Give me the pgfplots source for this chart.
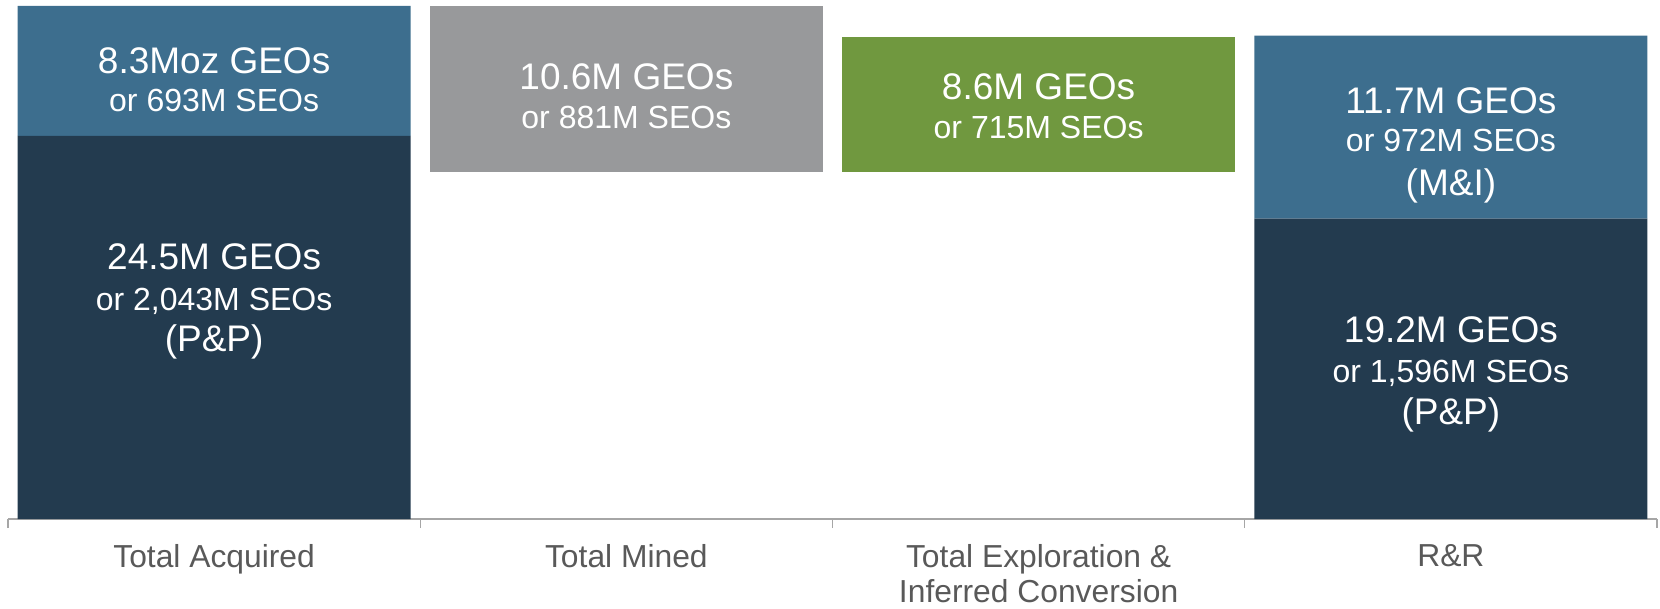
\documentclass[border=0pt]{standalone}
\usepackage{pgfplots}
\usepackage{pgfplotstable}
\pgfplotsset{compat=1.18}
\usepackage{fontspec}
\setmainfont{Liberation Sans}
\definecolor{navy}{HTML}{233B4F}
\definecolor{steel}{HTML}{3D6E8E}
\definecolor{grayb}{HTML}{98999B}
\definecolor{greenb}{HTML}{70983F}
\definecolor{axgray}{HTML}{A6A6A6}
\definecolor{labgray}{HTML}{595959}
\pgfplotstableread{
cat base pp mi mined expl
0 0 24.5 8.3 0 0
1 22.2 0 0 10.6 0
2 22.2 0 0 0 8.6
3 0 19.2 11.7 0 0
}\wfdata
\newcommand{\bigf}{\fontsize{18.5}{20}\selectfont}
\newcommand{\smlf}{\fontsize{16}{19}\selectfont}
\tikzset{vlb/.style={anchor=base, text=white, inner sep=0pt, font=\bigf},
         vls/.style={anchor=base, text=white, inner sep=0pt, font=\smlf}}
\begin{document}
\begin{tikzpicture}
\begin{axis}[name=ax, scale only axis, width=824.5pt, height=259.5pt,
  xmin=-0.5, xmax=3.5, ymin=0, ymax=33.18,
  ybar stacked, bar width=196.5pt,
  hide y axis,
  axis x line*=bottom,
  x axis line style={draw=axgray, line width=0.6pt},
  xtick={-0.5,0.5,1.5,2.5},
  xticklabels={Total Acquired, Total Mined, {Total Exploration \&\\Inferred Conversion}, R\&R},
  extra x ticks={3.5}, extra x tick labels={},
  tick align=outside, major tick length=4.5pt,
  xtick style={draw=axgray, line width=0.6pt},
  xticklabel style={xshift=103.06pt, align=center, inner sep=0pt, text=labgray,
    font=\fontsize{15.9}{17.5}\selectfont, yshift=-8pt},
  clip=false,
]
\addplot[fill=none, draw=none] table[x=cat, y=base] {\wfdata};
\addplot[fill=navy, draw=none] table[x=cat, y=pp] {\wfdata};
\addplot[fill=steel, draw=none] table[x=cat, y=mi] {\wfdata};
\addplot[fill=grayb, draw=none] table[x=cat, y=mined] {\wfdata};
\addplot[fill=greenb, draw=none] table[x=cat, y=expl] {\wfdata};

\coordinate (l01) at (axis cs:0,28.45);
\coordinate (l02) at (axis cs:0,26.02);
\coordinate (l03) at (axis cs:0,15.92);
\coordinate (l04) at (axis cs:0,13.36);
\coordinate (l05) at (axis cs:0,10.68);
\coordinate (l06) at (axis cs:1,27.43);
\coordinate (l07) at (axis cs:1,24.94);
\coordinate (l08) at (axis cs:2,26.79);
\coordinate (l09) at (axis cs:2,24.30);
\coordinate (l10) at (axis cs:3,25.90);
\coordinate (l11) at (axis cs:3,23.47);
\coordinate (l12) at (axis cs:3,20.67);
\coordinate (l13) at (axis cs:3,11.30);
\coordinate (l14) at (axis cs:3,8.74);
\coordinate (l15) at (axis cs:3,6.07);
\end{axis}
\node[vlb] at (l01) {8.3Moz GEOs};
\node[vls] at (l02) {or 693M SEOs};
\node[vlb] at (l03) {24.5M GEOs};
\node[vls] at (l04) {or 2,043M SEOs};
\node[vlb] at (l05) {(P\&P)};
\node[vlb] at (l06) {10.6M GEOs};
\node[vls] at (l07) {or 881M SEOs};
\node[vlb] at (l08) {8.6M GEOs};
\node[vls] at (l09) {or 715M SEOs};
\node[vlb] at (l10) {11.7M GEOs};
\node[vls] at (l11) {or 972M SEOs};
\node[vlb] at (l12) {(M\&I)};
\node[vlb] at (l13) {19.2M GEOs};
\node[vls] at (l14) {or 1,596M SEOs};
\node[vlb] at (l15) {(P\&P)};
\pgfresetboundingbox
\path ([xshift=-4pt,yshift=-44.5pt]ax.south west) rectangle ([xshift=1.5pt]ax.north east);
\end{tikzpicture}
\end{document}
